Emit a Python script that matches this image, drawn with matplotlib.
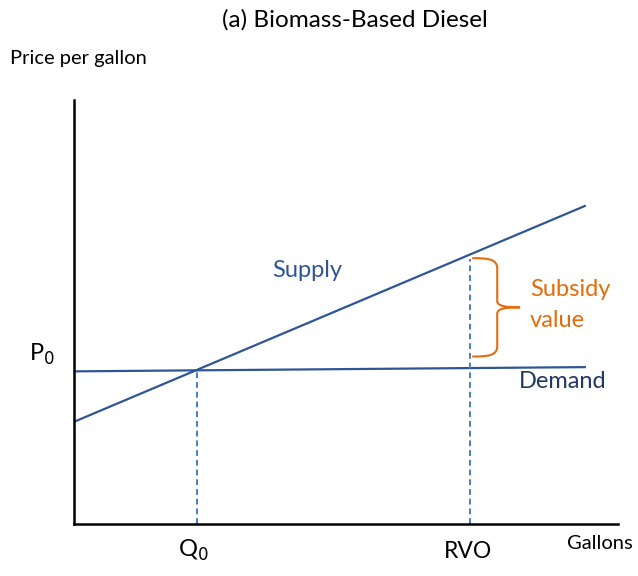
import numpy as np
import matplotlib.pyplot as plt
from matplotlib.path import Path
from matplotlib.patches import PathPatch

# Schéma conceptuel : unités arbitraires (0-100 sur chaque axe)
q_line = [0, 93.9]
demand = [36.0, 37.0]
supply = [24.1, 75.0]
q0 = 22.6
p0 = 36.2
rvo = 72.8
rvo_top = 62.5
brace_y = [39.5, 62.7]
brace_x = [73.2, 77.8, 82.0]

dark_blue = '#2F5597'
dash_blue = '#4A7EBB'
orange = '#E46C0A'
text_blue = '#1F3864'

plt.rcParams['font.family'] = ['Lato', 'DejaVu Sans']

fig = plt.figure(figsize=(6.38, 5.76), dpi=100)
ax = fig.add_axes([74 / 638, 52 / 576, 544 / 638, 424 / 576])
ax.set_xlim(0, 100)
ax.set_ylim(0, 100)

ax.plot(q_line, demand, color=dark_blue, lw=1.6)
ax.plot(q_line, supply, color=dark_blue, lw=1.6)
ax.plot([q0, q0], [0, p0], color=dash_blue, lw=1.4, ls=(0, (3, 2)))
ax.plot([rvo, rvo], [0, rvo_top], color=dash_blue, lw=1.4, ls=(0, (3, 2)))

# accolade (Subsidy value)
x0, x1, xt = brace_x
yb, yt = brace_y
ym = (yb + yt) / 2
verts = [
    (x0, yt), (x0 + 3.0, yt), (x1, yt - 0.2), (x1, yt - 2.5),
    (x1, ym + 1.5),
    (x1, ym + 0.3), (x1 + 1.5, ym), (xt, ym),
    (x1 + 1.5, ym), (x1, ym - 0.3), (x1, ym - 1.5),
    (x1, yb + 2.5),
    (x1, yb + 0.2), (x0 + 3.0, yb), (x0, yb),
]
codes = [Path.MOVETO, Path.CURVE4, Path.CURVE4, Path.CURVE4,
         Path.LINETO,
         Path.CURVE4, Path.CURVE4, Path.CURVE4,
         Path.CURVE4, Path.CURVE4, Path.CURVE4,
         Path.LINETO,
         Path.CURVE4, Path.CURVE4, Path.CURVE4]
ax.add_patch(PathPatch(Path(verts, codes), fill=False, edgecolor=orange, lw=1.5))

for s in ['top', 'right']:
    ax.spines[s].set_visible(False)
for s in ['left', 'bottom']:
    ax.spines[s].set_linewidth(1.8)
ax.set_xticks([])
ax.set_yticks([])

ax.text(42.8, 59.7, 'Supply', color=dark_blue, fontsize=17, ha='center', va='center')
ax.text(89.9, 33.5, 'Demand', color=text_blue, fontsize=17, ha='center', va='center')
ax.text(83.8, 55.4, 'Subsidy', color=orange, fontsize=17, ha='left', va='center')
ax.text(83.8, 47.9, 'value', color=orange, fontsize=17, ha='left', va='center')
ax.text(-5.9, 39.9, r'P$_0$', fontsize=17, ha='center', va='center')
ax.text(21.9, -6.2, r'Q$_0$', fontsize=17, ha='center', va='center')
ax.text(72.4, -6.4, 'RVO', fontsize=16.5, ha='center', va='center')
ax.text(96.7, -4.5, 'Gallons', fontsize=14.5, ha='center', va='center')
ax.text(0.8, 109.9, 'Price per gallon', fontsize=14.5, ha='center', va='center')
fig.text(355 / 638, 1 - 20 / 576, '(a) Biomass-Based Diesel', fontsize=17.5, ha='center', va='center')

fig.savefig('out.png', dpi=100)
